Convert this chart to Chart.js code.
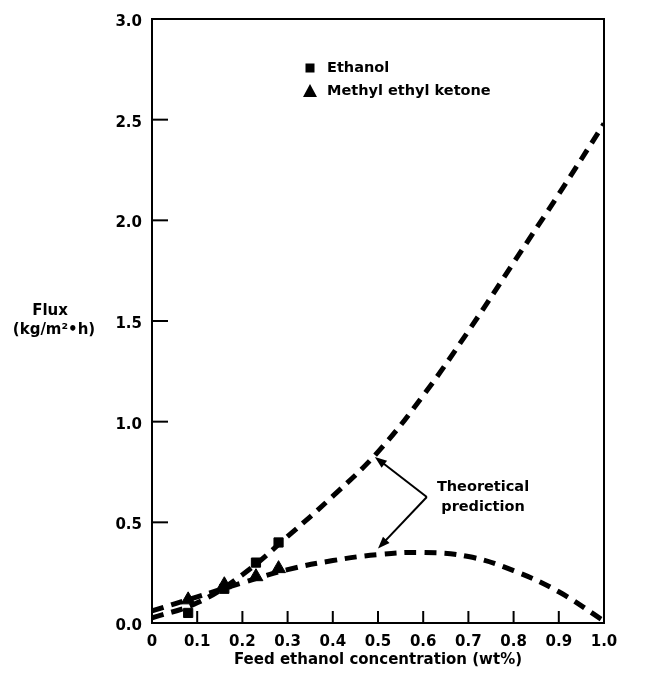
<!DOCTYPE html>
<html>
<head>
<meta charset="utf-8">
<script src="https://cdn.jsdelivr.net/npm/chart.js@4/dist/chart.umd.min.js"></script>
<style>
html,body{margin:0;padding:0;background:#fff;}
#wrap{width:649px;height:681px;position:relative;}
</style>
</head>
<body>
<div id="wrap"><canvas id="c" width="649" height="681"></canvas></div>
<script>
// ---- data ----
const curveX = [0, 0.1, 0.2, 0.3, 0.4, 0.5, 0.6, 0.7, 0.8, 0.9, 1.0];
const ethanolTheory = [0.025, 0.10, 0.24, 0.43, 0.63, 0.85, 1.13, 1.45, 1.79, 2.13, 2.48];
const mekTheory = [0.06, 0.13, 0.20, 0.265, 0.31, 0.34, 0.35, 0.33, 0.26, 0.155, 0.01];
const measX = [0.08, 0.16, 0.23, 0.28];
const ethanolMeas = [0.05, 0.17, 0.30, 0.40];
const mekMeas = [0.115, 0.19, 0.23, 0.27];
const xTickLabels = ['0', '0.1', '0.2', '0.3', '0.4', '0.5', '0.6', '0.7', '0.8', '0.9', '1.0'];
const yTickLabels = ['0.0', '0.5', '1.0', '1.5', '2.0', '2.5', '3.0'];
const seriesNames = ['Ethanol', 'Methyl ethyl ketone'];
const annotationText = ['Theoretical', 'prediction'];
const xTitle = 'Feed ethanol concentration (wt%)';
const yTitle = ['Flux', '(kg/m\u00B2\u2022h)'];

const FONT = '"DejaVu Sans", sans-serif';
const pts = (xs, ys) => xs.map((x, i) => ({x: x, y: ys[i]}));

const decor = {
  id: 'decor',
  afterDraw(chart) {
    const ctx = chart.ctx;
    const a = chart.chartArea;
    const xs = chart.scales.x, ys = chart.scales.y;
    ctx.save();
    ctx.strokeStyle = '#000';
    ctx.fillStyle = '#000';
    // frame
    ctx.lineWidth = 2;
    ctx.strokeRect(a.left, a.top, a.right - a.left, a.bottom - a.top);
    // inward ticks
    for (let i = 1; i < xTickLabels.length - 1; i++) {
      const px = xs.getPixelForValue(curveX[i]);
      ctx.beginPath(); ctx.moveTo(px, a.bottom); ctx.lineTo(px, a.bottom - 12); ctx.stroke();
    }
    for (let i = 1; i < yTickLabels.length - 1; i++) {
      const py = ys.getPixelForValue(parseFloat(yTickLabels[i]));
      ctx.beginPath(); ctx.moveTo(a.left, py); ctx.lineTo(a.left + 16, py); ctx.stroke();
    }
    // legend
    ctx.font = 'bold 14.5px ' + FONT;
    ctx.textBaseline = 'middle';
    ctx.textAlign = 'left';
    const lx = 310, ly1 = 68, ly2 = 91;
    ctx.fillRect(lx - 4.5, ly1 - 4.5, 9, 9);
    ctx.beginPath(); ctx.moveTo(lx, ly2 - 7); ctx.lineTo(lx + 7, ly2 + 6); ctx.lineTo(lx - 7, ly2 + 6); ctx.closePath(); ctx.fill();
    ctx.fillText(seriesNames[0], 327, ly1);
    ctx.fillText(seriesNames[1], 327, ly2);
    // annotation
    ctx.textAlign = 'center';
    ctx.fillText(annotationText[0], 483, 487);
    ctx.fillText(annotationText[1], 483, 507);
    const ox = xs.getPixelForValue(0.608), oy = ys.getPixelForValue(0.626);
    const tips = [[0.493, 0.825], [0.50, 0.37]];
    ctx.lineWidth = 2;
    tips.forEach(t => {
      const tx = xs.getPixelForValue(t[0]), ty = ys.getPixelForValue(t[1]);
      const ang = Math.atan2(ty - oy, tx - ox);
      ctx.beginPath(); ctx.moveTo(ox, oy); ctx.lineTo(tx - 6 * Math.cos(ang), ty - 6 * Math.sin(ang)); ctx.stroke();
      const L = 12, W = 4.5;
      ctx.beginPath();
      ctx.moveTo(tx, ty);
      ctx.lineTo(tx - L * Math.cos(ang) + W * Math.sin(ang), ty - L * Math.sin(ang) - W * Math.cos(ang));
      ctx.lineTo(tx - L * Math.cos(ang) - W * Math.sin(ang), ty - L * Math.sin(ang) + W * Math.cos(ang));
      ctx.closePath(); ctx.fill();
    });
    // axis titles
    ctx.font = 'bold 15px ' + FONT;
    ctx.fillText(xTitle, (a.left + a.right) / 2, 660);
    ctx.fillText(yTitle[0], 50, 311);
    ctx.fillText(yTitle[1], 54, 330);
    ctx.restore();
  }
};

new Chart(document.getElementById('c'), {
  type: 'scatter',
  data: {
    datasets: [
      {label: 'Theory ethanol', data: pts(curveX, ethanolTheory), showLine: true, borderColor: '#000',
       borderWidth: 5, borderDash: [12, 8], pointRadius: 0, tension: 0.4, fill: false},
      {label: 'Theory MEK', data: pts(curveX, mekTheory), showLine: true, borderColor: '#000',
       borderWidth: 5, borderDash: [12, 8], pointRadius: 0, tension: 0.4, fill: false},
      {label: seriesNames[0], data: pts(measX, ethanolMeas), pointStyle: 'rect', pointRadius: 6.5,
       backgroundColor: '#000', borderColor: '#000', borderWidth: 1},
      {label: seriesNames[1], data: pts(measX, mekMeas), pointStyle: 'triangle', pointRadius: 8,
       backgroundColor: '#000', borderColor: '#000', borderWidth: 1}
    ]
  },
  options: {
    responsive: false,
    animation: false,
    layout: {padding: {left: 0, right: 45, top: 19, bottom: 0}},
    plugins: {legend: {display: false}, tooltip: {enabled: false}},
    scales: {
      x: {
        type: 'linear', min: 0, max: 1,
        grid: {display: false, drawTicks: false},
        border: {display: false},
        afterFit(s) { s.height = 58; },
        ticks: {stepSize: 0.1, padding: 10, color: '#000', font: {family: FONT, weight: 'bold', size: 15},
                maxRotation: 0, autoSkip: false,
                callback: (v, i) => xTickLabels[i]}
      },
      y: {
        type: 'linear', min: 0, max: 3,
        grid: {display: false, drawTicks: false},
        border: {display: false},
        afterFit(s) { s.width = 152; },
        ticks: {stepSize: 0.5, padding: 10, labelOffset: 3, color: '#000', font: {family: FONT, weight: 'bold', size: 15},
                callback: (v, i) => yTickLabels[i]}
      }
    }
  },
  plugins: [decor]
});
</script>
</body>
</html>
